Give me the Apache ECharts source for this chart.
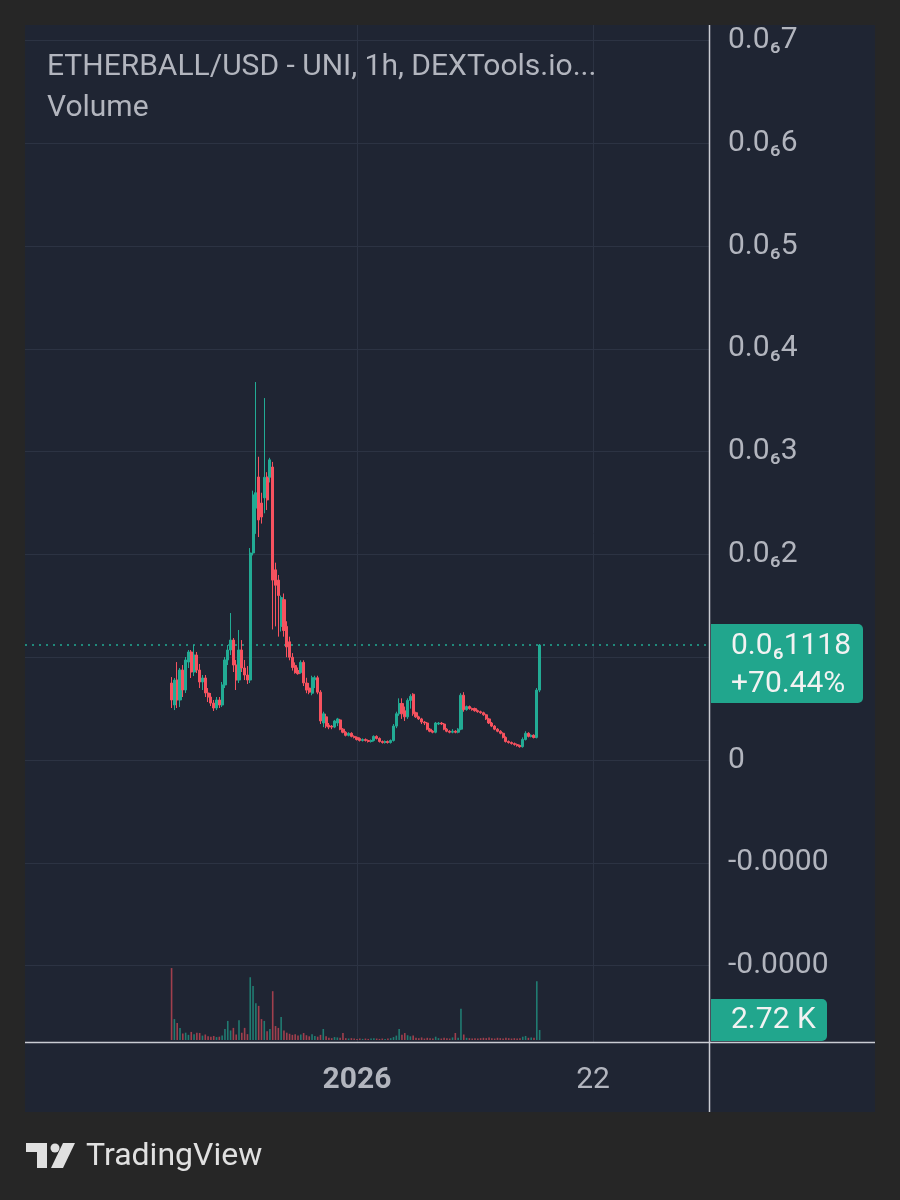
<!DOCTYPE html>
<html>
<head>
<meta charset="utf-8">
<script src="https://cdn.jsdelivr.net/npm/echarts@6/dist/echarts.min.js"></script>
<style>
  html, body { margin: 0; padding: 0; background: #262626; }
  #chart { width: 900px; height: 1200px; }
</style>
</head>
<body>
<div id="chart"></div>
<script>
// ---------- DATA (prices in units of 1e-7 USD, volume in K) ----------
const titleText = 'ETHERBALL/USD - UNI, 1h, DEXTools.io...';
const volumeTitle = 'Volume';
const candleStart = '2025-12-15T12:00:00Z';
const candleStepHours = 6;

const opens = [
  .749, .535, .778, .584, .875, .681, .953, 1.051, .856, 1.021,
  .875, .759, .798, .652, .613, .554, .506, .584, .535, .730,
  .973, 1.07, 1.167, .924, .778, 1.07, .895, .827, .778, 2.014,
  2.45, 2.753, 2.5, 2.55, 2.753, 2.75, 2.85, 1.85, 1.75, 1.3,
  1.56, 1.3, 1.15, 1.0, .92, .87, .85, .95, .75, .7,
  .65, .78, .8, .66, .36, .42, .34, .33, .32, .36,
  .39, .3, .27, .24, .26, .23, .22, .21, .19, .2,
  .19, .18, .19, .23, .21, .18, .17, .18, .17, .19,
  .33, .45, .55, .48, .42, .58, .64, .46, .42, .4,
  .37, .36, .3, .28, .27, .35, .36, .35, .3, .28,
  .27, .28, .27, .3, .63, .49, .52, .5, .5, .48,
  .47, .46, .44, .4, .36, .33, .3, .28, .26, .22,
  .18, .17, .16, .15, .14, .13, .2, .26, .23, .24,
  .22, .68
];
const closes = [
  .584, .778, .584, .875, .681, .973, 1.051, .856, 1.021, .875,
  .759, .798, .652, .613, .554, .506, .584, .535, .730, .973,
  1.07, 1.167, .924, .778, 1.07, .895, .827, .778, 2.014, 2.578,
  2.6, 2.335, 2.364, 2.75, 2.53, 2.92, 1.75, 1.7, 1.6, 1.58,
  1.26, 1.1, 1.0, .9, .85, .84, .95, .75, .68, .66,
  .8, .8, .66, .38, .45, .33, .32, .32, .38, .4,
  .3, .27, .24, .26, .23, .22, .2, .19, .2, .19,
  .18, .19, .23, .21, .18, .17, .18, .17, .19, .33,
  .45, .55, .45, .42, .58, .62, .45, .42, .4, .37,
  .36, .3, .28, .27, .36, .36, .35, .3, .28, .27,
  .28, .27, .3, .63, .49, .52, .5, .49, .48, .47,
  .46, .44, .4, .36, .33, .3, .28, .26, .22, .18,
  .17, .16, .15, .14, .13, .2, .26, .23, .24, .22,
  .68, 1.118
];
const lows = [
  .506, .486, .506, .516, .613, .652, .895, .798, .817, .846,
  .7, .681, .613, .564, .525, .477, .486, .506, .516, .7,
  .924, 1.021, .856, .681, .749, .856, .778, .739, .749, 1.99,
  2.2, 2.169, 2.3, 2.4, 2.432, 2.7, 1.27, 1.3, 1.2, 1.25,
  1.2, 1.0, .97, .87, .84, .83, .84, .72, .65, .64,
  .63, .7, .64, .35, .32, .31, .3, .3, .31, .33,
  .29, .26, .23, .23, .22, .21, .19, .18, .18, .18,
  .17, .17, .18, .2, .17, .16, .16, .16, .16, .18,
  .31, .43, .4, .38, .4, .5, .43, .41, .39, .35,
  .34, .29, .27, .26, .26, .34, .34, .29, .27, .26,
  .26, .26, .26, .29, .47, .48, .49, .48, .47, .46,
  .45, .43, .39, .35, .32, .29, .27, .25, .21, .17,
  .16, .15, .14, .13, .12, .12, .19, .22, .22, .21,
  .21, .66
];
const highs = [
  .807, .798, .953, .895, .924, 1.002, 1.07, 1.07, 1.119, 1.051,
  .934, .827, .827, .7, .652, .584, .613, .613, .759, 1.002,
  1.119, 1.43, 1.187, .973, 1.265, 1.167, .973, .914, 2.062, 2.62,
  3.677, 2.95, 2.6, 3.521, 2.8, 2.94, 2.9, 1.92, 1.8, 1.6,
  1.62, 1.35, 1.2, 1.04, .95, .9, .97, .97, .8, .75,
  .82, .82, .82, .68, .47, .45, .36, .34, .39, .41,
  .4, .31, .28, .27, .27, .24, .23, .22, .21, .21,
  .2, .2, .24, .24, .22, .19, .19, .19, .2, .35,
  .47, .6, .6, .52, .6, .64, .65, .47, .43, .41,
  .38, .37, .31, .29, .37, .37, .37, .36, .31, .29,
  .3, .29, .31, .65, .66, .53, .53, .51, .51, .49,
  .48, .47, .45, .41, .37, .34, .31, .29, .27, .23,
  .19, .18, .17, .16, .15, .22, .28, .27, .25, .25,
  .7, 1.128
];
const volumes = [
  19.6, 5.7, 4.6, 3.3, 1.8, 2.0, 1.4, 2.2, 1.6, 2.0,
  1.9, 1.2, 1.5, 1.0, 0.9, 1.1, 0.8, 0.9, 1.2, 3.0,
  5.2, 2.6, 3.3, 1.5, 5.4, 2.0, 3.3, 1.6, 17.1, 14.7,
  10.0, 9.3, 5.7, 5.2, 2.4, 3.0, 13.3, 3.8, 3.3, 6.3,
  2.6, 2.0, 1.7, 1.4, 1.6, 1.2, 1.5, 1.9, 1.3, 1.0,
  1.6, 1.1, 0.9, 1.4, 3.0, 1.0, 0.6, 0.5, 0.8, 0.7,
  0.6, 1.9, 0.5, 0.4, 0.5, 0.4, 0.3, 0.4, 0.3, 0.4,
  0.3, 0.4, 0.5, 0.4, 0.3, 0.4, 0.3, 0.4, 0.5, 0.8,
  1.2, 3.0, 1.4, 1.9, 1.3, 1.0, 1.2, 0.6, 0.5, 0.7,
  0.4, 0.6, 0.5, 0.4, 0.9, 0.5, 0.4, 0.6, 0.5, 0.4,
  0.7, 1.9, 0.6, 8.5, 1.5, 0.6, 0.5, 0.4, 0.5, 0.4,
  0.5, 0.6, 0.5, 0.7, 0.5, 0.4, 0.6, 0.5, 0.4, 0.6,
  0.5, 0.4, 0.5, 0.4, 0.5, 0.9, 1.1, 0.6, 0.7, 0.6,
  16.0, 2.72
];
const changePct = 70.44;
const yTickValues = [-2, -1, 0, 1, 2, 3, 4, 5, 6, 7];
const xTickDates = ['2026-01-01T00:00:00Z', '2026-01-22T00:00:00Z'];
const xTickLabels = ['2026', '22'];

// ---------- STYLE ----------
const UP = '#22ab94', DOWN = '#f7525f';
const TXT = '#b2b5be', GRIDC = '#2c3343', PANEL = '#1f2533';
const FONT = 'Roboto';
const FS = 30;

const t0 = Date.parse(candleStart);
const times = opens.map((_, i) => t0 + i * candleStepHours * 3600e3);
const candleData = times.map((t, i) => [t, opens[i], closes[i], lows[i], highs[i]]);
const volData = times.map((t, i) => ({
  value: [t, volumes[i]],
  itemStyle: { color: closes[i] >= opens[i] ? 'rgba(34,171,148,0.65)' : 'rgba(247,82,95,0.6)' }
}));
const xTickTimes = xTickDates.map(d => Date.parse(d));

function fmtPrice(v) {
  if (Math.abs(v) < 1e-9) return '0';
  if (v < 0) return '-0.0000';
  return '0.0\u2086' + String(v).replace('.', '');
}

const xMin = Date.parse('2025-12-02T10:58:00Z');
const xMax = Date.parse('2026-02-01T07:44:00Z');

const chart = echarts.init(document.getElementById('chart'), null, { renderer: 'canvas' });
const option = {
  backgroundColor: '#262626',
  animation: false,
  textStyle: { fontFamily: FONT },
  title: [
    { text: titleText, left: 47, top: 52, padding: 0, textStyle: { color: TXT, fontSize: FS, fontWeight: 'normal', fontFamily: FONT } },
    { text: volumeTitle, left: 47, top: 93, padding: 0, textStyle: { color: TXT, fontSize: FS, fontWeight: 'normal', fontFamily: FONT } }
  ],
  grid: [
    { left: 25, right: 191, top: 25, bottom: 158 },
    { left: 25, right: 191, top: 960, bottom: 160 }
  ],
  xAxis: [
    {
      type: 'value', gridIndex: 0, min: xMin, max: xMax,
      axisLine: { show: false },
      axisTick: { show: false, customValues: xTickTimes },
      axisLabel: {
        customValues: xTickTimes, margin: 23, color: TXT, fontSize: FS, fontFamily: FONT,
        formatter: function (v) {
          const k = xTickTimes.indexOf(v);
          const s = k >= 0 ? xTickLabels[k] : '';
          return k === 0 ? '{b|' + s + '}' : '{n|' + s + '}';
        },
        rich: {
          b: { fontWeight: 'bold', fontSize: FS, color: TXT, fontFamily: FONT },
          n: { fontSize: FS, color: TXT, fontFamily: FONT }
        }
      },
      splitLine: { show: true, lineStyle: { color: GRIDC, width: 1 } }
    },
    { type: 'value', gridIndex: 1, min: xMin, max: xMax, show: false, splitLine: { show: false } }
  ],
  yAxis: [
    {
      type: 'value', gridIndex: 0, position: 'right', min: -2.743, max: 7.150,
      axisLine: { show: false },
      axisTick: { show: false, customValues: yTickValues },
      axisLabel: {
        customValues: yTickValues, color: TXT, fontSize: FS, fontFamily: FONT, margin: 19,
        formatter: fmtPrice
      },
      splitLine: { show: true, lineStyle: { color: GRIDC, width: 1 } }
    },
    { type: 'value', gridIndex: 1, min: 0, max: 21.8, show: false, splitLine: { show: false } }
  ],
  series: [
    {
      type: 'candlestick', xAxisIndex: 0, yAxisIndex: 0,
      data: candleData, barWidth: 2.6,
      itemStyle: { color: UP, color0: DOWN, borderColor: UP, borderColor0: DOWN, borderWidth: 1 },
      markLine: {
        silent: true, symbol: ['none', 'none'], label: { show: false },
        lineStyle: { color: UP, type: [2, 5], width: 1.5 },
        data: [{ yAxis: closes[closes.length - 1] }]
      },
      z: 5
    },
    {
      type: 'bar', xAxisIndex: 1, yAxisIndex: 1, data: volData, barWidth: 1.6, z: 4
    }
  ]
};
chart.setOption(option);

// ---------- decorations & last-value badges ----------
const lastClose = closes[closes.length - 1];
const lastVol = volumes[volumes.length - 1];
const py = chart.convertToPixel({ yAxisIndex: 0 }, lastClose);
const vyRaw = chart.convertToPixel({ yAxisIndex: 1 }, lastVol);
const vTop = Math.min(vyRaw - 21, 1042 - 43);

const LOGO = '#e0e0e0';
chart.setOption({
  graphic: [
    { type: 'rect', z: -10, silent: true, shape: { x: 25, y: 25, width: 850, height: 1087 }, style: { fill: PANEL } },
    { type: 'line', z: 50, silent: true, shape: { x1: 709.5, y1: 25, x2: 709.5, y2: 1112 }, style: { stroke: '#c9ccd3', lineWidth: 1.5 } },
    { type: 'line', z: 50, silent: true, shape: { x1: 25, y1: 1042.5, x2: 875, y2: 1042.5 }, style: { stroke: '#c9ccd3', lineWidth: 1.5 } },
    { type: 'rect', z: 100, silent: true, shape: { x: 711, y: py - 21, width: 152, height: 79, r: [0, 5, 5, 0] }, style: { fill: '#21a68d' } },
    { type: 'text', z: 101, silent: true, x: 731, y: py + 1, style: { text: fmtPrice(lastClose), fill: '#f2f2f2', fontSize: FS, fontFamily: FONT, verticalAlign: 'middle' } },
    { type: 'text', z: 101, silent: true, x: 731, y: py + 39, style: { text: '+' + changePct.toFixed(2) + '%', fill: '#f2f2f2', fontSize: FS, fontFamily: FONT, verticalAlign: 'middle' } },
    { type: 'rect', z: 100, silent: true, shape: { x: 711, y: vTop, width: 116, height: 42, r: [0, 5, 5, 0] }, style: { fill: '#21a68d' } },
    { type: 'text', z: 101, silent: true, x: 731, y: vTop + 21, style: { text: lastVol.toFixed(2) + ' K', fill: '#f2f2f2', fontSize: FS, fontFamily: FONT, verticalAlign: 'middle' } },
    { type: 'rect', silent: true, shape: { x: 26, y: 1143, width: 20, height: 9 }, style: { fill: LOGO } },
    { type: 'rect', silent: true, shape: { x: 37, y: 1143, width: 10, height: 25 }, style: { fill: LOGO } },
    { type: 'circle', silent: true, shape: { cx: 55, cy: 1148, r: 4.5 }, style: { fill: LOGO } },
    { type: 'polygon', silent: true, shape: { points: [[63, 1143], [75, 1143], [63, 1168], [51, 1168]] }, style: { fill: LOGO } },
    { type: 'text', silent: true, x: 86, y: 1157, style: { text: 'TradingView', fill: LOGO, fontSize: 32, fontFamily: FONT, verticalAlign: 'middle' } }
  ]
});
</script>
</body>
</html>
